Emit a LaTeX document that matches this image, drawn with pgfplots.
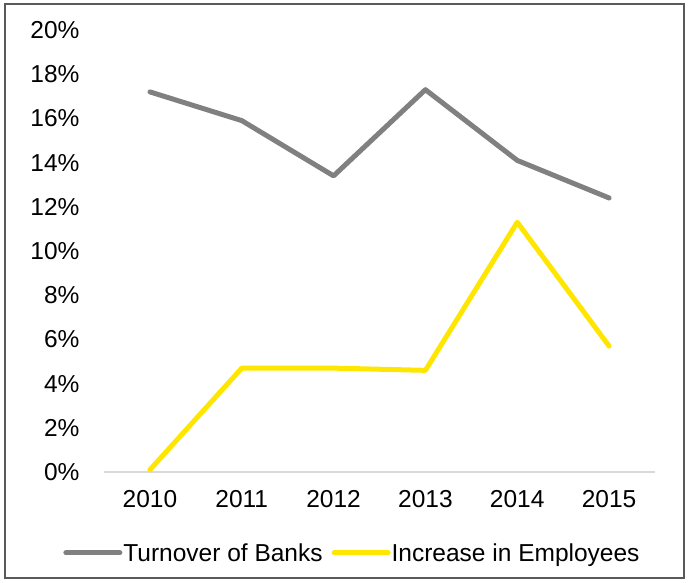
\documentclass[border=0pt]{standalone}
\usepackage{pgfplots}
\pgfplotsset{compat=1.18}
\usepackage{fontspec}
\setmainfont{Liberation Sans}
\definecolor{seriesgray}{HTML}{808080}
\definecolor{eyyellow}{HTML}{FFE600}
\definecolor{axisgray}{HTML}{D9D9D9}
\definecolor{framegray}{HTML}{595959}
\begin{document}
\begin{tikzpicture}[x=1pt,y=1pt]
\useasboundingbox (0,0) rectangle (688,582);
\draw[framegray, line width=1.2pt] (5,4) rectangle (684,578);
\begin{axis}[
  at={(104pt,110pt)}, anchor=south west,
  scale only axis, width=551pt, height=442pt,
  xmin=-0.5, xmax=5.5, ymin=0, ymax=20,
  xtick={0,1,2,3,4,5},
  xticklabels={2010,2011,2012,2013,2014,2015},
  ytick={0,2,4,6,8,10,12,14,16,18,20},
  yticklabels={0\%,2\%,4\%,6\%,8\%,10\%,12\%,14\%,16\%,18\%,20\%},
  axis x line*=bottom, axis y line*=left,
  y axis line style={draw=none},
  x axis line style={draw=axisgray, line width=1.5pt},
  major tick length=0pt,
  tick style={draw=none},
  ticklabel style={font=\fontsize{24.5}{28}\selectfont, text=black},
  yticklabel style={anchor=east, xshift=-21pt},
  xticklabel style={anchor=north, yshift=-15pt},
  clip=false,
  legend columns=2,
  legend style={draw=none, fill=none, at={(axis description cs:0.45,-0.183)}, anchor=center,
    font=\fontsize{24.5}{28}\selectfont, inner sep=0pt,
    /tikz/every even column/.append style={column sep=8pt},
    nodes={inner sep=1pt}},
  legend image code/.code={\draw[#1, line cap=round] (0pt,0pt) -- (54pt,0pt);},
]
\addplot[seriesgray, line width=5pt, line join=round, line cap=round] coordinates {
  (0,17.2) (1,15.9) (2,13.4) (3,17.3) (4,14.1) (5,12.4)};
\addlegendentry{Turnover of Banks}
\addplot[eyyellow, line width=5pt, line join=round, line cap=round] coordinates {
  (0,0.1) (1,4.7) (2,4.7) (3,4.6) (4,11.3) (5,5.7)};
\addlegendentry{Increase in Employees}
\end{axis}
\end{tikzpicture}
\end{document}
